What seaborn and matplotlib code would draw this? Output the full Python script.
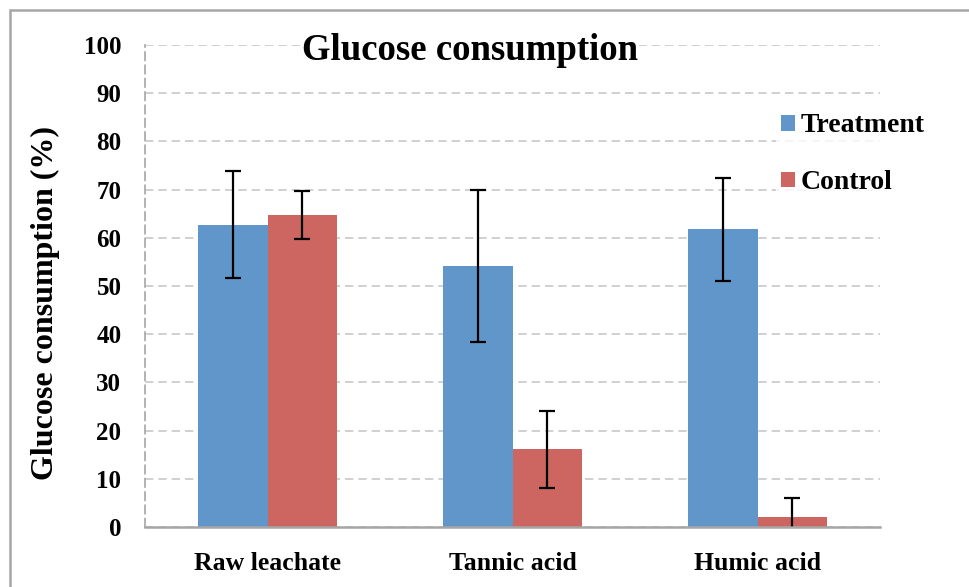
import matplotlib
matplotlib.use("Agg")
import matplotlib.pyplot as plt
import seaborn as sns
import pandas as pd
from matplotlib.patches import Patch, Rectangle

categories = ["Raw leachate", "Tannic acid", "Humic acid"]
series = ["Treatment", "Control"]
treatment = [62.7, 54.1, 61.8]
treatment_err = [11.1, 15.8, 10.7]
control = [64.8, 16.1, 2.0]
control_err = [5.0, 8.0, 4.0]
yticks = [0, 10, 20, 30, 40, 50, 60, 70, 80, 90, 100]
colors = ["#6096C9", "#CD6660"]

sns.set_theme(style="white")
plt.rcParams["font.family"] = ["Liberation Serif", "DejaVu Serif"]
plt.rcParams["font.weight"] = "bold"
plt.rcParams["text.color"] = "black"
plt.rcParams["axes.labelcolor"] = "black"
plt.rcParams["xtick.labelcolor"] = "black"
plt.rcParams["ytick.labelcolor"] = "black"

df = pd.DataFrame({
    "category": categories * 2,
    "series": [series[0]] * 3 + [series[1]] * 3,
    "value": treatment + control,
})
errs = {series[0]: treatment_err, series[1]: control_err}

fig = plt.figure(figsize=(9.69, 5.87), dpi=100)
fig.patch.set_facecolor("white")
ax = fig.add_axes([145 / 969, 60 / 587, (880 - 145) / 969, (527 - 45) / 587])

sns.barplot(data=df, x="category", y="value", hue="series", palette=colors,
            width=0.5714, gap=0, errorbar=None, legend=False, ax=ax,
            saturation=1, linewidth=0)

for cont, s in zip(ax.containers, series):
    for bar, e in zip(cont, errs[s]):
        x = bar.get_x() + bar.get_width() / 2
        h = bar.get_height()
        ax.errorbar(x, h, yerr=e, fmt="none", ecolor="black", elinewidth=1.6,
                    capsize=6, capthick=1.6, zorder=5, clip_on=True)

ax.set_ylim(0, 100)
ax.set_xlim(-0.5, 2.5)
ax.set_yticks(yticks)
ax.set_yticklabels([str(v) for v in yticks], fontsize=18, fontweight="bold")
ax.set_xticks([-0.5, 0.5, 1.5, 2.5], minor=False)
ax.set_xticklabels([])
ax.set_xticks([0, 1, 2], minor=True)
ax.set_xticklabels(categories, minor=True, fontsize=18.5, fontweight="bold")
ax.tick_params(axis="x", which="minor", length=0, pad=18)
ax.tick_params(axis="x", which="major", length=7, width=1.5, color="#A6A6A6", direction="out")
ax.tick_params(axis="y", length=8, width=1, color="#A6A6A6", direction="out", pad=9)
ax.set_xlabel("")
ax.set_ylabel("Glucose consumption (%)", fontsize=23, fontweight="bold")
ax.yaxis.set_label_coords(-0.116, 0.465)

ax.yaxis.grid(True, color="#C8C8C8", linestyle=(0, (5, 3)), linewidth=1.2)
ax.set_axisbelow(True)
for sp in ["top", "right"]:
    ax.spines[sp].set_visible(False)
ax.spines["left"].set_color("#A6A6A6")
ax.spines["left"].set_linestyle((0, (5, 3)))
ax.spines["left"].set_linewidth(1.2)
ax.spines["bottom"].set_color("#A6A6A6")
ax.spines["bottom"].set_linewidth(1.8)
ax.spines["bottom"].set_zorder(6)

fig.text(470 / 969, 1 - 51 / 587, "Glucose consumption", ha="center", va="center",
         fontsize=26.5, fontweight="bold", color="black",
         bbox=dict(facecolor="white", edgecolor="none", pad=1))

handles = [Patch(facecolor=colors[0], edgecolor="none"),
           Patch(facecolor=colors[1], edgecolor="none")]
leg = fig.legend(handles, series, loc="upper left",
                 bbox_to_anchor=(762 / 969, 1 - 94 / 587),
                 frameon=True, fontsize=20, handlelength=0.5, handleheight=0.5,
                 handletextpad=0.2, labelspacing=1.15, borderpad=0.2)
leg.get_frame().set_facecolor("white")
leg.get_frame().set_edgecolor("none")
for t in leg.get_texts():
    t.set_fontweight("bold")
    t.set_color("black")

fig.add_artist(Rectangle((10 / 969, -0.1), 1.2, 1 - 10 / 587 + 0.1,
                         transform=fig.transFigure, fill=False,
                         edgecolor="#A6A6A6", linewidth=1.8))

fig.savefig("out.png", dpi=100, facecolor="white")
